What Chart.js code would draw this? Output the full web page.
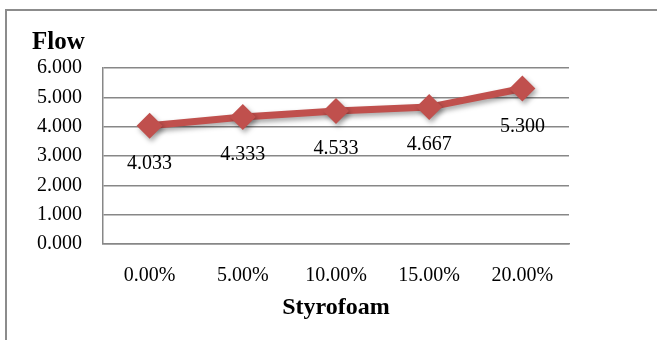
<!DOCTYPE html>
<html>
<head>
<meta charset="utf-8">
<script src="https://cdn.jsdelivr.net/npm/chart.js@4.4.1/dist/chart.umd.min.js"></script>
<style>
  html, body { margin: 0; padding: 0; background: #fff; }
  #wrap { position: relative; width: 657px; height: 340px; overflow: hidden; }
  #frame { position: absolute; left: 5px; top: 9px; width: 700px; height: 400px;
           border-left: 2px solid #8c8c8c; border-top: 2px solid #8c8c8c; box-sizing: border-box; }
  canvas { position: absolute; left: 0; top: 0; }
</style>
</head>
<body>
<div id="wrap">
  <div id="frame"></div>
  <canvas id="c" width="657" height="340"></canvas>
</div>
<script>
// Flow measured against Styrofoam content
const categories = ['0.00%', '5.00%', '10.00%', '15.00%', '20.00%'];
const flowValues = [4.033, 4.333, 4.533, 4.667, 5.300];
const yTicks = [0, 1, 2, 3, 4, 5, 6];

const SERIF = '"Liberation Serif", "DejaVu Serif", serif';
const RED = '#C0504D';
const GRID = '#878787';

// soft drop shadow under the series line and markers
const shadowPlugin = {
  id: 'seriesShadow',
  beforeDatasetDraw(chart) {
    const ctx = chart.ctx;
    ctx.save();
    ctx.shadowColor = 'rgba(0,0,0,0.35)';
    ctx.shadowBlur = 5;
    ctx.shadowOffsetX = 2;
    ctx.shadowOffsetY = 3;
  },
  afterDatasetDraw(chart) {
    chart.ctx.restore();
  }
};

// value labels printed below each marker
const valueLabels = {
  id: 'valueLabels',
  afterDatasetsDraw(chart) {
    const ctx = chart.ctx;
    const meta = chart.getDatasetMeta(0);
    ctx.save();
    ctx.font = '20px ' + SERIF;
    ctx.fillStyle = '#000';
    ctx.textAlign = 'center';
    ctx.textBaseline = 'middle';
    meta.data.forEach((pt, i) => {
      ctx.fillText(flowValues[i].toFixed(3), pt.x, pt.y + 38);
    });
    ctx.restore();
  }
};

new Chart(document.getElementById('c'), {
  type: 'line',
  data: {
    labels: categories,
    datasets: [{
      label: 'Flow',
      data: flowValues,
      borderColor: RED,
      backgroundColor: RED,
      borderWidth: 7,
      pointStyle: 'rectRot',
      pointRadius: 13,
      pointHoverRadius: 13,
      pointBackgroundColor: RED,
      pointBorderColor: RED,
      pointBorderWidth: 0,
      tension: 0
    }]
  },
  options: {
    responsive: false,
    animation: false,
    events: [],
    layout: { padding: { left: 32, right: 88, top: 0, bottom: 0 } },
    plugins: {
      legend: { display: false },
      tooltip: { enabled: false },
      title: {
        display: true,
        text: 'Flow',
        align: 'start',
        color: '#000',
        font: { family: SERIF, size: 25, weight: 'bold' },
        padding: { top: 28, bottom: 10 }
      }
    },
    scales: {
      x: {
        offset: true,
        grid: { display: false, drawTicks: false },
        border: { display: true, color: GRID, width: 1.5 },
        ticks: {
          color: '#000',
          font: { family: SERIF, size: 20 },
          padding: 20,
          maxRotation: 0,
          autoSkip: false
        },
        title: {
          display: true,
          text: 'Styrofoam',
          color: '#000',
          font: { family: SERIF, size: 24, weight: 'bold' },
          padding: { top: 4, bottom: 18 }
        },
        afterFit(scale) { scale.height = 96; }
      },
      y: {
        min: 0,
        max: 6,
        afterBuildTicks(scale) { scale.ticks = yTicks.map(v => ({ value: v })); },
        grid: { color: GRID, lineWidth: 1.5, drawTicks: false },
        border: { display: true, color: GRID, width: 1.5 },
        ticks: {
          color: '#000',
          font: { family: SERIF, size: 20 },
          padding: 21,
          callback: v => Number(v).toFixed(3)
        },
        afterFit(scale) { scale.width = 71; }
      }
    }
  },
  plugins: [shadowPlugin, valueLabels]
});
</script>
</body>
</html>
